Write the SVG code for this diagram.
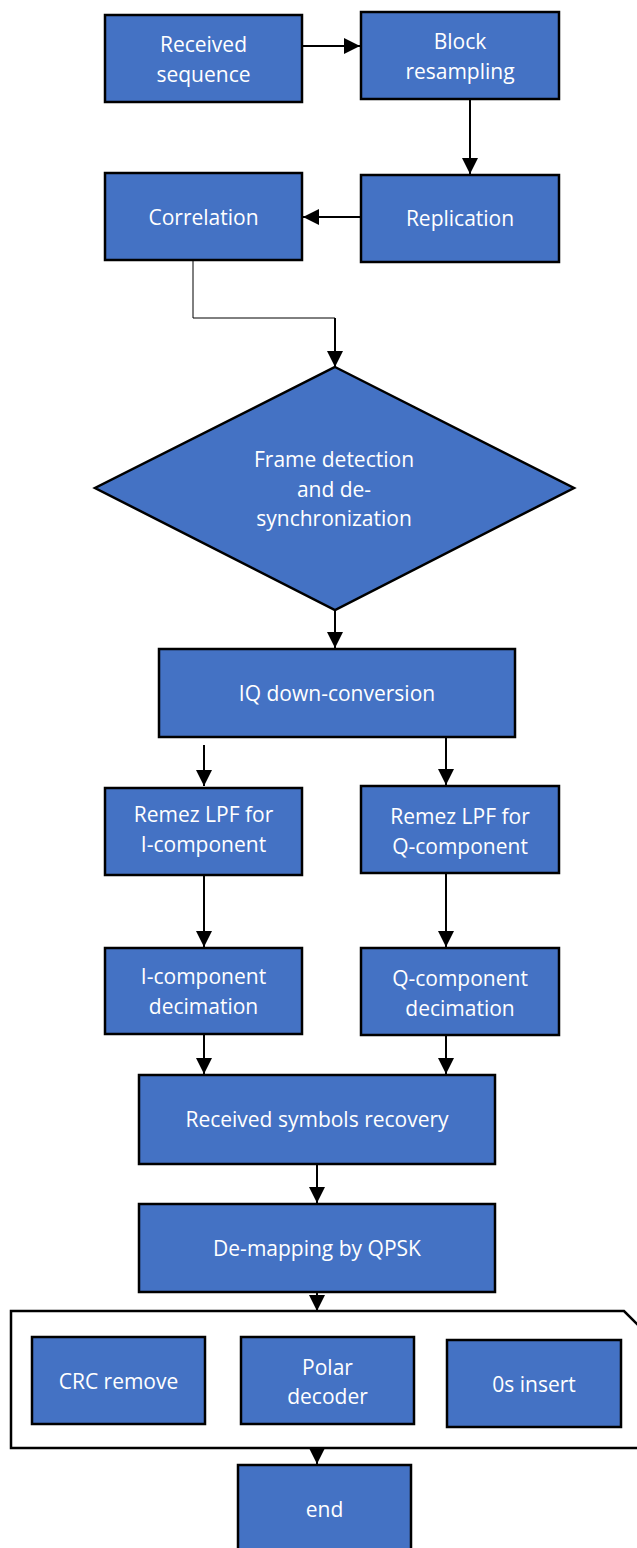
<svg xmlns="http://www.w3.org/2000/svg" width="637" height="1548" viewBox="0 0 637 1548">
<style>
.box{fill:#4472C4;stroke:#000;stroke-width:2.5}
.t{fill:#fff;font-family:"Open Sans","Liberation Sans",sans-serif;font-size:21px;text-anchor:middle}
.c{fill:none;stroke:#000;stroke-width:2}
.thin{fill:none;stroke:#000;stroke-width:1}
</style>
<defs>
<marker id="ah" markerUnits="userSpaceOnUse" markerWidth="16" markerHeight="16" viewBox="0 0 16 16" refX="16" refY="8" orient="auto">
<path d="M0,0 L16,8 L0,16 Z" fill="#000"/>
</marker>
</defs>
<rect width="637" height="1548" fill="#fff"/>
<g id="connectors">
<line class="c" x1="302" y1="46" x2="360" y2="46" marker-end="url(#ah)"/>
<line class="c" x1="470" y1="99" x2="470" y2="174" marker-end="url(#ah)"/>
<line class="c" x1="361" y1="217" x2="303" y2="217" marker-end="url(#ah)"/>
<polyline class="thin" points="193,260 193,318 335,318"/>
<line class="c" x1="335" y1="318" x2="335" y2="367" marker-end="url(#ah)"/>
<line class="c" x1="335" y1="602" x2="335" y2="648" marker-end="url(#ah)"/>
<line class="c" x1="204" y1="745" x2="204" y2="786" marker-end="url(#ah)"/>
<line class="c" x1="446" y1="737" x2="446" y2="785" marker-end="url(#ah)"/>
<line class="c" x1="204" y1="875" x2="204" y2="947" marker-end="url(#ah)"/>
<line class="c" x1="446" y1="873" x2="446" y2="947" marker-end="url(#ah)"/>
<line class="c" x1="204" y1="1034" x2="204" y2="1074" marker-end="url(#ah)"/>
<line class="c" x1="446" y1="1035" x2="446" y2="1074" marker-end="url(#ah)"/>
<line class="c" x1="317" y1="1164" x2="317" y2="1203" marker-end="url(#ah)"/>
<line class="c" x1="317" y1="1292" x2="317" y2="1311" marker-end="url(#ah)"/>
<line class="c" x1="317" y1="1448" x2="317" y2="1464" marker-end="url(#ah)"/>
</g>
<g id="received-sequence">
<rect class="box" x="105" y="15" width="197" height="87"/>
<text class="t" x="203.5" y="52">Received</text>
<text class="t" x="203.5" y="82">sequence</text>
</g>
<g id="block-resampling">
<rect class="box" x="361" y="12" width="198" height="87"/>
<text class="t" x="460" y="49">Block</text>
<text class="t" x="460" y="79">resampling</text>
</g>
<g id="replication">
<rect class="box" x="361" y="175" width="198" height="87"/>
<text class="t" x="460" y="226">Replication</text>
</g>
<g id="correlation">
<rect class="box" x="105" y="173" width="197" height="87"/>
<text class="t" x="203.5" y="225">Correlation</text>
</g>
<g id="frame-detection">
<polygon class="box" points="335,367 574,488 335,610 95,488"/>
<text class="t" x="334" y="467">Frame detection</text>
<text class="t" x="334" y="497">and de-</text>
<text class="t" x="334" y="526">synchronization</text>
</g>
<g id="iq-down-conversion">
<rect class="box" x="159" y="649" width="356" height="88"/>
<text class="t" x="337" y="701">IQ down-conversion</text>
</g>
<g id="remez-i">
<rect class="box" x="105" y="788" width="197" height="87"/>
<text class="t" x="203.5" y="822">Remez LPF for</text>
<text class="t" x="203.5" y="852">I-component</text>
</g>
<g id="remez-q">
<rect class="box" x="361" y="786" width="198" height="87"/>
<text class="t" x="460" y="824">Remez LPF for</text>
<text class="t" x="460" y="854">Q-component</text>
</g>
<g id="i-decimation">
<rect class="box" x="105" y="948" width="197" height="86"/>
<text class="t" x="203.5" y="984">I-component</text>
<text class="t" x="203.5" y="1014">decimation</text>
</g>
<g id="q-decimation">
<rect class="box" x="361" y="948" width="198" height="87"/>
<text class="t" x="460" y="986">Q-component</text>
<text class="t" x="460" y="1016">decimation</text>
</g>
<g id="symbols-recovery">
<rect class="box" x="139" y="1075" width="356" height="89"/>
<text class="t" x="317" y="1127">Received symbols recovery</text>
</g>
<g id="de-mapping">
<rect class="box" x="139" y="1204" width="356" height="88"/>
<text class="t" x="317" y="1256">De-mapping by QPSK</text>
</g>
<g id="decoder-group">
<path d="M11,1311 L624,1311 L640,1327 L640,1448 L11,1448 Z" fill="#fff" stroke="#000" stroke-width="2.5"/>
</g>
<g id="crc-remove">
<rect class="box" x="32" y="1337" width="173" height="87"/>
<text class="t" x="118.5" y="1389">CRC remove</text>
</g>
<g id="polar-decoder">
<rect class="box" x="241" y="1337" width="173" height="87"/>
<text class="t" x="327.5" y="1375">Polar</text>
<text class="t" x="327.5" y="1404">decoder</text>
</g>
<g id="zeros-insert">
<rect class="box" x="447" y="1340" width="174" height="87"/>
<text class="t" x="534" y="1392">0s insert</text>
</g>
<g id="end">
<rect class="box" x="238" y="1465" width="173" height="95"/>
<text class="t" x="324.5" y="1517">end</text>
</g>
</svg>
